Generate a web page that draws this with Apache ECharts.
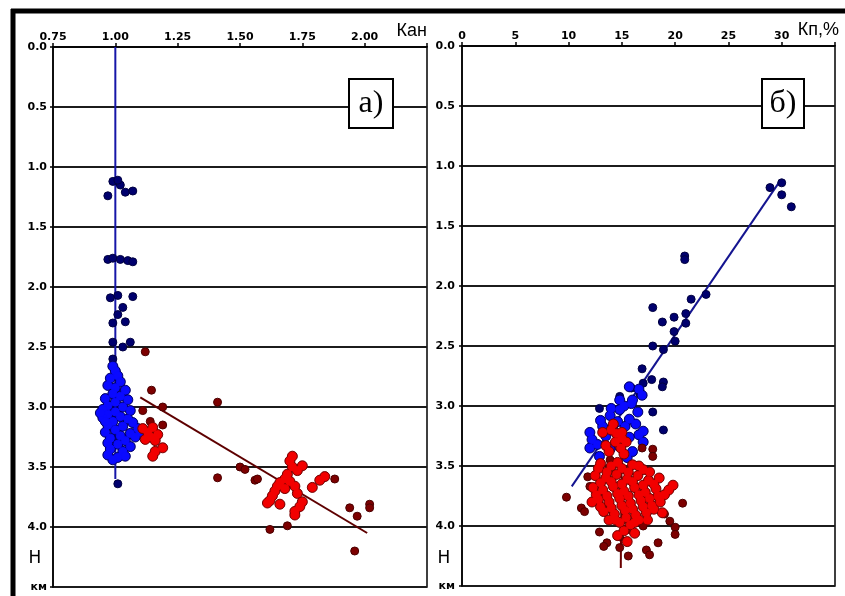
<!DOCTYPE html>
<html>
<head>
<meta charset="utf-8">
<script src="https://cdn.jsdelivr.net/npm/echarts@6/dist/echarts.min.js"></script>
<style>
  html, body { margin: 0; padding: 0; background: #fff; }
  #chart { width: 845px; height: 596px; }
</style>
</head>
<body>
<div id="chart"></div>
<script>
// Panel а): anisotropy coefficient (Кан) vs depth H, km
const kanBlueSparse = [
  [0.99,1.12],[1.02,1.15],[0.97,1.24],[1.04,1.21],[1.07,1.20],[1.01,1.11],
  [0.97,1.77],[0.99,1.76],[1.02,1.77],[1.05,1.78],[1.07,1.79],
  [0.98,2.09],[1.01,2.07],[1.07,2.08],[1.03,2.17],[1.01,2.23],[1.04,2.29],[0.99,2.30],
  [0.99,2.46],[1.03,2.50],[1.06,2.46],[0.99,2.60],[1.01,3.64]
];
const kanBlueDense = [
  [0.99,2.66],[1.00,2.70],[1.01,2.74],[0.98,2.76],[1.02,2.79],[0.97,2.82],[1.00,2.84],
  [1.04,2.86],[0.99,2.89],[1.02,2.91],[0.96,2.93],[1.05,2.94],[1.00,2.96],[0.97,2.99],
  [1.03,3.00],[0.95,3.02],[1.06,3.03],[1.00,3.04],[0.97,3.06],[1.02,3.08],[0.95,3.09],
  [1.05,3.10],[0.99,3.12],[1.07,3.13],[0.97,3.15],[1.03,3.16],[1.09,3.18],[1.00,3.19],
  [0.96,3.21],[1.06,3.22],[1.02,3.24],[0.98,3.26],[1.08,3.25],[1.04,3.28],[0.97,3.30],
  [1.01,3.31],[1.06,3.33],[0.98,3.35],[1.03,3.37],[0.97,3.40],[1.01,3.42],[0.99,3.44],
  [1.04,3.41],[1.10,3.21],[0.94,3.05],[0.96,3.12]
];
const kanRedSparse = [
  [1.12,2.54],[1.145,2.86],[1.19,3.00],[1.11,3.03],[1.14,3.12],[1.19,3.15],
  [1.41,2.96],[1.41,3.59],[1.50,3.50],[1.52,3.52],[1.56,3.61],[1.57,3.60],
  [1.62,4.02],[1.69,3.99],[1.88,3.60],[1.94,3.84],[1.97,3.91],[2.02,3.81],
  [2.02,3.84],[1.96,4.20]
];
const kanRedDense = [
  [1.11,3.18],[1.13,3.21],[1.15,3.17],[1.14,3.25],[1.16,3.28],[1.12,3.27],[1.17,3.23],
  [1.19,3.34],[1.16,3.37],[1.15,3.41],
  [1.70,3.45],[1.71,3.50],[1.73,3.53],[1.69,3.56],[1.68,3.60],[1.66,3.63],[1.65,3.66],
  [1.64,3.70],[1.63,3.74],[1.62,3.78],[1.61,3.80],[1.66,3.81],[1.72,3.66],[1.73,3.72],
  [1.75,3.79],[1.74,3.83],[1.72,3.87],[1.72,3.90],[1.79,3.67],[1.82,3.61],[1.84,3.58],
  [1.68,3.68],[1.70,3.62],[1.71,3.41],[1.75,3.49]
];
const kanBlueTrend = [[1.0,0.0],[1.0,3.6]];
const kanRedTrend = [[1.10,2.92],[2.01,4.05]];

// Panel б): porosity (Кп, %) vs depth H, km
const kpBlueSparse = [
  [28.9,1.18],[30.0,1.14],[30.0,1.24],[30.9,1.34],[20.9,1.75],[20.9,1.78],[22.9,2.07],
  [21.5,2.11],[17.9,2.18],[21.0,2.23],[19.9,2.26],[18.8,2.30],[21.0,2.31],[19.9,2.38],
  [20.0,2.46],[17.9,2.50],[18.9,2.53],[16.9,2.69],[18.9,2.80],[17.8,2.78],[17.0,2.81],
  [15.9,2.85],[16.7,2.90],[14.8,2.92],[18.8,2.84],[18.9,3.20],[12.9,3.02],[17.9,3.05]
];
const kpBlueDense = [
  [15.7,2.84],[16.6,2.86],[14.8,2.95],[14.8,3.03],[16.0,2.95],[16.9,2.91],[13.9,3.08],
  [15.7,3.11],[17.0,3.21],[12.0,3.22],[12.2,3.28],[12.0,3.35],[12.7,3.32],[13.9,3.36],
  [14.8,3.34],[15.5,3.43],[12.9,3.42],[15.7,3.26],[16.6,3.24],[14.2,3.20],[13.2,3.17],
  [15.3,3.17],[14.6,3.13],[16.5,3.05],[15.2,3.00],[13.5,3.25],[16.3,3.15],[17.0,3.30],
  [16.0,3.38],[13.0,3.12],[14.0,3.02],[15.9,2.98]
];
const kpRedSparse = [
  [16.9,3.35],[17.9,3.36],[17.9,3.42],[13.9,3.45],[9.8,3.76],[20.7,3.81],[11.8,3.59],
  [12.0,3.67],[11.2,3.85],[11.5,3.88],[12.9,4.05],[13.6,4.14],[13.3,4.17],[15.6,4.25],
  [17.3,4.20],[17.6,4.24],[18.4,4.14],[19.0,3.90],[19.5,3.96],[20.0,4.01],[20.0,4.07],
  [14.8,4.09],[14.8,4.18],[15.7,4.03],[17.0,4.00]
];
const kpRedDense = [
  [14.0,3.20],[14.5,3.23],[15.0,3.27],[14.4,3.30],[14.9,3.35],[15.2,3.40],[13.8,3.38],[15.0,3.22],
  [13.2,3.22],[14.2,3.15],[13.5,3.33],[15.4,3.30],
  [13.0,3.48],[14.0,3.50],[15.0,3.52],[16.0,3.49],[17.0,3.53],[12.5,3.58],[13.5,3.60],
  [14.5,3.57],[15.5,3.61],[16.5,3.58],[17.5,3.62],[18.5,3.60],[12.3,3.68],[13.2,3.70],
  [14.2,3.67],[15.2,3.71],[16.2,3.68],[17.2,3.72],[18.2,3.69],[19.0,3.74],[12.8,3.78],
  [13.8,3.80],[14.8,3.77],[15.8,3.81],[16.8,3.79],[17.8,3.83],[18.6,3.80],[13.3,3.88],
  [14.3,3.90],[15.3,3.87],[16.3,3.91],[17.3,3.89],[14.8,3.97],[15.8,3.99],[16.6,3.95],
  [13.8,3.95],[15.2,4.04],[16.2,4.06],[14.6,4.08],[15.5,4.13],
  [12.8,3.52],[13.6,3.55],[14.6,3.47],[15.6,3.55],[16.6,3.50],[17.6,3.55],[13.0,3.64],
  [14.0,3.63],[15.0,3.65],[16.0,3.63],[17.0,3.66],[18.0,3.65],[12.6,3.74],[13.6,3.75],
  [14.6,3.73],[15.6,3.75],[16.6,3.74],[17.6,3.77],[18.4,3.75],[13.0,3.84],[14.0,3.85],
  [15.0,3.83],[16.0,3.86],[17.0,3.84],[18.0,3.86],[14.4,3.95],[15.4,3.93],[16.2,3.97],
  [17.4,3.95],[19.4,3.70],[19.8,3.66],[12.2,3.80],[18.8,3.89]
];
const kpBlueTrend = [[10.3,3.67],[29.8,1.13]];
const kpRedTrend = [[15.0,3.22],[14.9,4.35]];

// Axis ranges
const kanRange = { min: 0.75, max: 2.25, step: 0.25 };
const kpRange = { min: 0, max: 35, step: 5 };
const depthRange = { min: 0, max: 4.5, step: 0.5 };

const BLUE_DARK = '#00006e';
const BLUE = '#0a0aff';
const RED_DARK = '#7d0000';
const RED = '#f20000';
const tickFont = { fontFamily: 'DejaVu Sans', fontWeight: 'bold', fontSize: 11, color: '#000' };

function xAxisFor(gridIndex, r, decimals) {
  return {
    gridIndex, type: 'value', position: 'top',
    min: r.min, max: r.max, interval: r.step,
    axisLine: { show: true, onZero: false, lineStyle: { color: '#000', width: 1.5 } },
    axisTick: { show: true, inside: false, length: 4, lineStyle: { color: '#000', width: 1.5 } },
    axisLabel: Object.assign({ margin: 4,
      formatter: v => (Math.abs(v - r.max) < 1e-9 ? '' : v.toFixed(decimals)) }, tickFont),
    splitLine: { show: false }
  };
}
function yAxisFor(gridIndex, margin) {
  return {
    gridIndex, type: 'value', inverse: true,
    min: depthRange.min, max: depthRange.max, interval: depthRange.step,
    axisLine: { show: true, onZero: false, lineStyle: { color: '#000', width: 1.5 } },
    axisTick: { show: true, length: 3, lineStyle: { color: '#000', width: 1.5 } },
    axisLabel: Object.assign({ margin,
      formatter: v => (Math.abs(v - depthRange.max) < 1e-9 ? 'км' : v.toFixed(1)) }, tickFont),
    splitLine: { show: true, lineStyle: { color: '#1c1c1c', width: 2 } }
  };
}

function line(xi, data, color) {
  return { type: 'line', xAxisIndex: xi, yAxisIndex: xi, data, showSymbol: false,
    silent: true, z: 1, lineStyle: { color, width: 2 } };
}
function dots(xi, data, color, border, size, z) {
  return { type: 'scatter', xAxisIndex: xi, yAxisIndex: xi, data, symbolSize: size, z,
    itemStyle: { color, borderColor: border, borderWidth: 1, opacity: 1 } };
}

const chart = echarts.init(document.getElementById('chart'), null, { renderer: 'canvas' });
chart.setOption({
  animation: false,
  backgroundColor: '#fff',
  grid: [
    { left: 53, top: 47, width: 374, height: 540, show: true, borderColor: '#000', borderWidth: 1.5 },
    { left: 462, top: 46, width: 373, height: 540, show: true, borderColor: '#000', borderWidth: 1.5 }
  ],
  xAxis: [xAxisFor(0, kanRange, 2), xAxisFor(1, kpRange, 0)],
  yAxis: [yAxisFor(0, 6), yAxisFor(1, 7)],
  series: [
    line(0, kanBlueTrend, '#1616a8'),
    line(0, kanRedTrend, '#5e0000'),
    dots(0, kanBlueSparse, BLUE_DARK, '#000040', 8, 3),
    dots(0, kanBlueDense, BLUE_DARK, BLUE_DARK, 10, 3),
    dots(0, kanBlueDense, BLUE, BLUE, 8, 4),
    dots(0, kanRedSparse, RED_DARK, '#4a0000', 8, 5),
    dots(0, kanRedDense, RED_DARK, RED_DARK, 10, 5),
    dots(0, kanRedDense, RED, RED, 8, 6),

    line(1, kpBlueTrend, '#141490'),
    line(1, kpRedTrend, '#6a0000'),
    dots(1, kpBlueSparse, BLUE_DARK, '#000040', 8, 3),
    dots(1, kpBlueDense, BLUE_DARK, BLUE_DARK, 10, 3),
    dots(1, kpBlueDense, BLUE, BLUE, 8, 4),
    dots(1, kpRedSparse, RED_DARK, '#4a0000', 8, 5),
    dots(1, kpRedDense, RED_DARK, RED_DARK, 10, 5),
    dots(1, kpRedDense, RED, RED, 8, 6)
  ],
  graphic: [
    // outer frame
    { type: 'line', shape: { x1: 11, y1: 11, x2: 845, y2: 11 }, style: { stroke: '#000', lineWidth: 5 } },
    { type: 'line', shape: { x1: 13, y1: 9, x2: 13, y2: 596 }, style: { stroke: '#000', lineWidth: 5 } },
    // axis names
    { type: 'text', x: 427, y: 40, style: { text: 'Кан', font: '18px "Liberation Sans"', fill: '#000', align: 'right', verticalAlign: 'bottom' } },
    { type: 'text', x: 839, y: 39, style: { text: 'Кп,%', font: '18px "Liberation Sans"', fill: '#000', align: 'right', verticalAlign: 'bottom' } },
    { type: 'text', x: 35, y: 559, style: { text: 'Н', font: '17px "DejaVu Sans"', fill: '#000', align: 'center', verticalAlign: 'middle' } },
    { type: 'text', x: 444, y: 559, style: { text: 'Н', font: '17px "DejaVu Sans"', fill: '#000', align: 'center', verticalAlign: 'middle' } },
    // panel captions
    { type: 'rect', z: 20, shape: { x: 349, y: 79, width: 44, height: 49 }, style: { fill: '#fff', stroke: '#000', lineWidth: 2 } },
    { type: 'text', z: 21, x: 371, y: 104, style: { text: 'а)', font: '32px "Liberation Serif"', fill: '#000', align: 'center', verticalAlign: 'middle' } },
    { type: 'rect', z: 20, shape: { x: 762, y: 79, width: 42, height: 49 }, style: { fill: '#fff', stroke: '#000', lineWidth: 2 } },
    { type: 'text', z: 21, x: 783, y: 104, style: { text: 'б)', font: '32px "Liberation Serif"', fill: '#000', align: 'center', verticalAlign: 'middle' } }
  ]
});
</script>
</body>
</html>
